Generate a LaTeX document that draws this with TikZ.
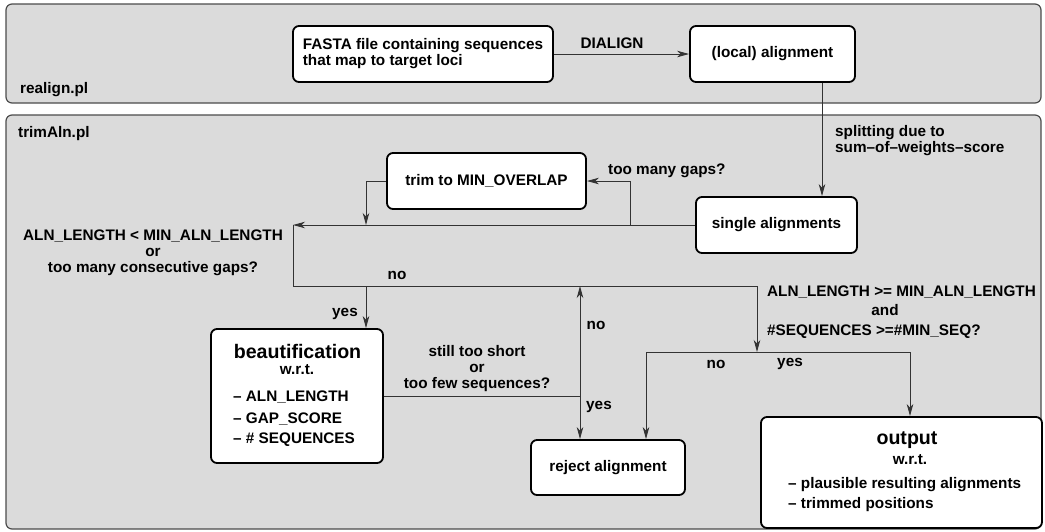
\documentclass[tikz,border=0pt]{standalone}
\usepackage{fontspec}
\setmainfont{Liberation Sans}
\usetikzlibrary{arrows.meta}
\begin{document}
\begin{tikzpicture}[x=1pt,y=-1pt,
  font=\bfseries\fontsize{15.3}{16}\selectfont,
  panel/.style={draw=black!70, fill=black!14, line width=1.2pt, rounded corners=6pt, inner sep=0pt},
  box/.style={draw=black, fill=white, line width=1.8pt, rounded corners=6pt, inner sep=0pt},
  conn/.style={draw=black!80, line width=0.9pt},
  arr/.style={conn, -{Stealth[length=12pt,width=6.5pt,inset=3.5pt]}},
  lbl/.style={inner sep=0pt},
  big/.style={lbl, font=\bfseries\fontsize{19.6}{22}\selectfont}
]
\useasboundingbox (0,0) rectangle (1045,531);
% panels
\node[panel, minimum width=1035pt, minimum height=99pt] (realign) at (523.5,53.5) {};
\node[panel, minimum width=1035pt, minimum height=414pt] (trimaln) at (523.5,322) {};
\node[lbl, anchor=west] (realignlbl) at (20,90) {realign.pl};
\node[lbl, anchor=west] (trimlbl) at (18,134) {trimAln.pl};
% boxes
\node[box, minimum width=260pt, minimum height=56pt, align=left] (fasta) at (423,54) {FASTA file containing sequences\\that map to target loci};
\node[box, minimum width=165pt, minimum height=56pt] (local) at (772.5,54) {(local) alignment};
\node[box, minimum width=161pt, minimum height=56pt] (single) at (776.5,225) {single alignments};
\node[box, minimum width=199pt, minimum height=56pt] (trim) at (486.5,181) {trim to MIN\_OVERLAP};
\node[box, minimum width=172pt, minimum height=134pt] (beaut) at (297,396) {};
\node[box, minimum width=154pt, minimum height=55pt] (reject) at (608,467.5) {reject alignment};
\node[box, minimum width=281pt, minimum height=111pt] (output) at (901.5,472.5) {};
% box contents
\node[big] (beauttitle) at (297.5,351) {beautification};
\node[lbl] (beautwrt) at (297,370) {w.r.t.};
\node[lbl, anchor=west] (b1) at (233,397) {-- ALN\_LENGTH};
\node[lbl, anchor=west] (b2) at (233,419) {-- GAP\_SCORE};
\node[lbl, anchor=west] (b3) at (233,440) {-- \# SEQUENCES};
\node[big] (outtitle) at (907,440) {output};
\node[lbl] (outwrt) at (910,460) {w.r.t.};
\node[lbl, anchor=west] (o1) at (788,485) {-- plausible resulting alignments};
\node[lbl, anchor=west] (o2) at (788,505) {-- trimmed positions};
% connectors
\draw[arr] (fasta) -- (local);
\node[lbl] (dialign) at (612,43) {DIALIGN};
\coordinate (xs) at (822,0);
\draw[arr] (local.south -| xs) -- (single.north -| xs);
\node[lbl, anchor=west, align=left] (split) at (835,140.5) {splitting due to\\sum--of--weights--score};
\coordinate (dA) at (293,225);
\coordinate (dB) at (757,286);
\coordinate (dC) at (757,352);
\draw[arr] (single.west) -- (dA);
\coordinate (gp) at (630,225);
\draw[arr] (gp) |- (trim.east);
\node[lbl, anchor=west] (gapslbl) at (608,171) {too many gaps?};
\coordinate (ty) at (366,225);
\draw[arr] (trim.west) -| (ty);
\draw[conn] (dA) |- (dB);
\draw[arr] (dB) -- (dC);
\node[lbl, align=center] (cond1) at (153,253) {ALN\_LENGTH {\char`\<} MIN\_ALN\_LENGTH\\or\\too many consecutive gaps?};
\node[lbl] (no1) at (397,275) {no};
\draw[arr] (ty |- dB) -- (beaut.north -| ty);
\node[lbl] (yes1) at (345,314) {yes};
\coordinate (s) at (580,396);
\draw[conn] (beaut.east) -- (s);
\draw[arr] (s) -- (s |- dB);
\draw[arr] (s) -- (s |- reject.north);
\node[lbl, align=center] (cond2) at (477,369) {still too short\\or\\too few sequences?};
\node[lbl] (no2) at (596,325) {no};
\node[lbl] (yes2) at (599,407) {yes};
\coordinate (e1) at (646,352);
\coordinate (e2) at (910,352);
\draw[conn] (e1) -- (e2);
\draw[arr] (e1) -- (e1 |- reject.north);
\draw[arr] (e2) -- (e2 |- output.north);
\node[lbl] (c3a) at (901.5,292) {ALN\_LENGTH {\char`\>}= MIN\_ALN\_LENGTH};
\node[lbl] (c3b) at (885,310) {and};
\node[lbl, anchor=west] (c3c) at (767,332) {\#SEQUENCES {\char`\>}=\#MIN\_SEQ?};
\node[lbl] (no3) at (716,364) {no};
\node[lbl] (yes3) at (790,364) {yes};
\end{tikzpicture}
\end{document}
